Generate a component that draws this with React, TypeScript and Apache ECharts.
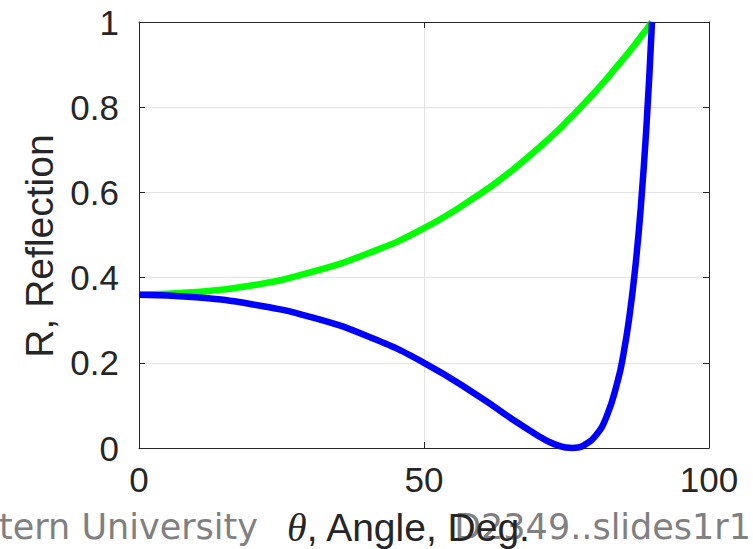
import React, { useEffect, useRef } from "react";
import * as echarts from "echarts";

// angle of incidence, degrees
const angles = [0, 10, 20, 30, 40, 50, 60, 65, 70, 72, 74, 75, 76, 77, 78, 80, 82, 84, 85, 86, 87, 88, 89, 90];
// green curve (s-polarisation)
const greenR = [0.36, 0.366, 0.382, 0.412, 0.456, 0.516, 0.598, 0.647, 0.703, 0.727, 0.752, 0.766, 0.779, 0.793, 0.807, 0.836, 0.866, 0.898, 0.914, 0.93, 0.947, 0.965, 0.982, 1.0];
// blue curve (p-polarisation)
const blueR = [0.36, 0.354, 0.337, 0.308, 0.263, 0.2, 0.118, 0.072, 0.029, 0.014, 0.004, 0.001, 0.0, 0.001, 0.006, 0.027, 0.073, 0.158, 0.221, 0.305, 0.415, 0.559, 0.749, 1.0];

const xTicks = { min: 0, max: 100, interval: 50 };
const yTicks = { min: 0, max: 1, interval: 0.2 };

const xLabel = "{t|θ}, Angle, Deg.";
const yLabel = "R, Reflection";
const footerLeft = "Northeastern University";
const footerRight = "D2349..slides1r1";

const INK = "#262626";

export default function App() {
  const ref = useRef<HTMLDivElement>(null);
  useEffect(() => {
    document.body.style.margin = "0";
    const chart = echarts.init(ref.current!, null, { renderer: "svg" });
    const pair = (ys: number[]) => angles.map((a, i) => [a, ys[i]]);
    const axisLine = { show: true, onZero: false, lineStyle: { color: INK, width: 1 } };
    const tick = { show: true, inside: true, length: 6, lineStyle: { color: INK, width: 1 } };
    chart.setOption({
      animation: false,
      grid: { left: 139, right: 44, top: 22, bottom: 101 },
      xAxis: [
        {
          type: "value",
          ...xTicks,
          axisLine,
          axisTick: tick,
          axisLabel: { fontSize: 35, color: INK, margin: 14, fontFamily: "Liberation Sans" },
          splitLine: { show: true, lineStyle: { color: "#e3e3e3", width: 1 } },
        },
        {
          type: "value",
          position: "top",
          ...xTicks,
          axisLine,
          axisTick: tick,
          axisLabel: { show: false },
          splitLine: { show: false },
        },
      ],
      yAxis: [
        {
          type: "value",
          ...yTicks,
          axisLine,
          axisTick: tick,
          axisLabel: { fontSize: 35, color: INK, margin: 20, fontFamily: "Liberation Sans" },
          splitLine: { show: true, lineStyle: { color: "#e3e3e3", width: 1 } },
        },
        {
          type: "value",
          position: "right",
          ...yTicks,
          axisLine,
          axisTick: tick,
          axisLabel: { show: false },
          splitLine: { show: false },
        },
      ],
      series: [
        {
          type: "line",
          data: pair(greenR),
          smooth: 0.5,
          showSymbol: false,
          clip: false,
          lineStyle: { color: "#00ff00", width: 6.5 },
        },
        {
          type: "line",
          data: pair(blueR),
          smooth: 0.5,
          showSymbol: false,
          clip: false,
          lineStyle: { color: "#0000ff", width: 6.5 },
        },
      ],
      graphic: [
        {
          type: "text",
          x: 258,
          y: 527,
          z: 1,
          style: {
            text: footerLeft,
            fontSize: 35,
            fontFamily: "DejaVu Sans",
            fill: "#808080",
            align: "right",
            verticalAlign: "middle",
          },
        },
        {
          type: "text",
          x: 751,
          y: 527,
          z: 1,
          style: {
            text: footerRight,
            fontSize: 35,
            fontFamily: "DejaVu Sans",
            fill: "#808080",
            align: "right",
            verticalAlign: "middle",
          },
        },
        {
          type: "text",
          x: 287,
          y: 527,
          z: 10,
          style: {
            text: xLabel,
            fontSize: 39,
            fontFamily: "Liberation Sans",
            fill: INK,
            align: "left",
            verticalAlign: "middle",
            rich: {
              t: { fontFamily: "Liberation Serif", fontStyle: "italic", fontSize: 40, fill: INK },
            },
          },
        },
        {
          type: "text",
          x: 39,
          y: 246,
          rotation: Math.PI / 2,
          z: 10,
          style: {
            text: yLabel,
            fontSize: 39,
            fontFamily: "Liberation Sans",
            fill: INK,
            align: "center",
            verticalAlign: "middle",
          },
        },
      ],
    });
    return () => chart.dispose();
  }, []);
  return <div ref={ref} style={{ width: 753, height: 549 }} />;
}
